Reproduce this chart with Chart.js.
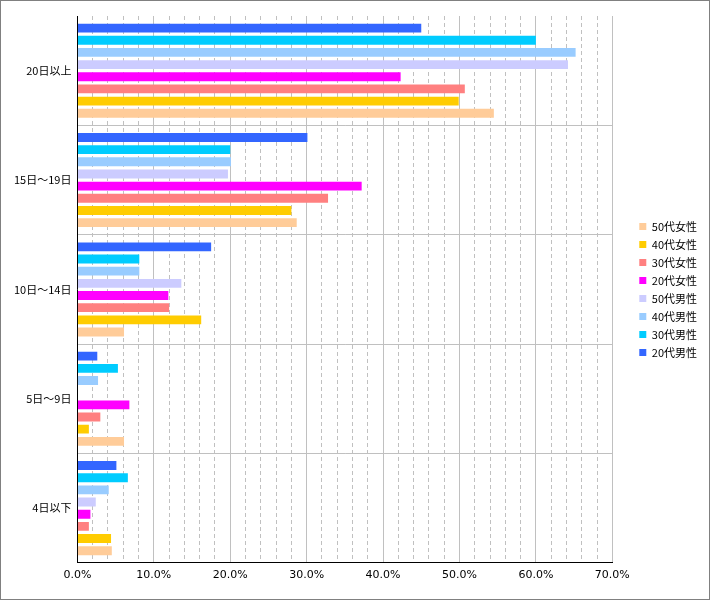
<!DOCTYPE html>
<html>
<head>
<meta charset="utf-8">
<script src="https://cdn.jsdelivr.net/npm/chart.js@4/dist/chart.umd.min.js"></script>
<style>
  html, body { margin:0; padding:0; background:#fff; }
  #frame { width:710px; height:600px; box-sizing:border-box; border:1px solid #808080; }
  canvas { display:block; }
</style>
</head>
<body>
<div id="frame"><canvas id="chart" width="708" height="598"></canvas></div>
<script>
  const categories = ["20日以上", "15日～19日", "10日～14日", "5日～9日", "4日以下"];
  const seriesNames = ["20代男性", "30代男性", "40代男性", "50代男性", "20代女性", "30代女性", "40代女性", "50代女性"];

  const male20   = [45.0, 30.1, 17.5, 2.6, 5.1];
  const male30   = [60.0, 20.0,  8.1, 5.3, 6.6];
  const male40   = [65.2, 20.1,  8.1, 2.7, 4.1];
  const male50   = [64.2, 19.7, 13.6, 0.0, 2.4];
  const female20 = [42.3, 37.2, 11.9, 6.8, 1.7];
  const female30 = [50.7, 32.8, 12.0, 3.0, 1.5];
  const female40 = [49.9, 28.0, 16.2, 1.5, 4.4];
  const female50 = [54.5, 28.7,  6.1, 6.1, 4.5];

  const seriesValues = [male20, male30, male40, male50, female20, female30, female40, female50];
  const colors = ["#3366FF","#00CCFF","#99CCFF","#CCCCFF","#FF00FF","#FF8080","#FFCC00","#FFCC99"];

  const jpFont = { family:"'Noto Sans CJK JP', sans-serif", size:11 };

  // empty box between plot and legend
  const legendGap = {
    id:"legendGap",
    beforeInit(chart){
      Chart.layouts.addBox(chart, {
        position:"right", weight:500, fullSize:false, options:{},
        isHorizontal(){ return false; },
        update(maxW, maxH){ this.width = 20; this.height = maxH; },
        draw(){}
      });
    }
  };

  new Chart(document.getElementById("chart"), {
    type:"bar",
    data:{
      labels: categories,
      datasets: seriesNames.map((name, i) => ({
        label: name,
        data: seriesValues[i],
        backgroundColor: colors[i],
        borderWidth: 0,
        categoryPercentage: 0.89,
        barPercentage: 0.73
      }))
    },
    options:{
      indexAxis:"y",
      responsive:false,
      animation:false,
      layout:{ padding:{ left:7, top:15, right:2, bottom:11 } },
      plugins:{
        tooltip:{ enabled:false },
        legend:{
          position:"right",
          fullSize:false,
          reverse:true,
          labels:{ boxWidth:7, boxHeight:7, padding:7, color:"#000", font: jpFont }
        }
      },
      scales:{
        x:{
          min:0, max:70,
          grid:{ color:"#c0c0c0", drawTicks:false },
          border:{
            color:"#000",
            dash: ctx => (ctx.tick && ctx.tick.value % 10 !== 0) ? [4,3] : []
          },
          ticks:{
            stepSize:2, autoSkip:false, minRotation:0, maxRotation:0, padding:6,
            color:"#000",
            font:{ family:"'DejaVu Sans', sans-serif", size:11 },
            callback: v => v % 10 === 0 ? v.toFixed(1) + "%" : ""
          }
        },
        y:{
          grid:{ drawTicks:false, color: ctx => ctx.index === 0 ? "rgba(0,0,0,0)" : "#c0c0c0" },
          border:{ color:"#000" },
          ticks:{ padding:6, color:"#000", font: jpFont }
        }
      }
    },
    plugins:[legendGap]
  });
</script>
</body>
</html>
